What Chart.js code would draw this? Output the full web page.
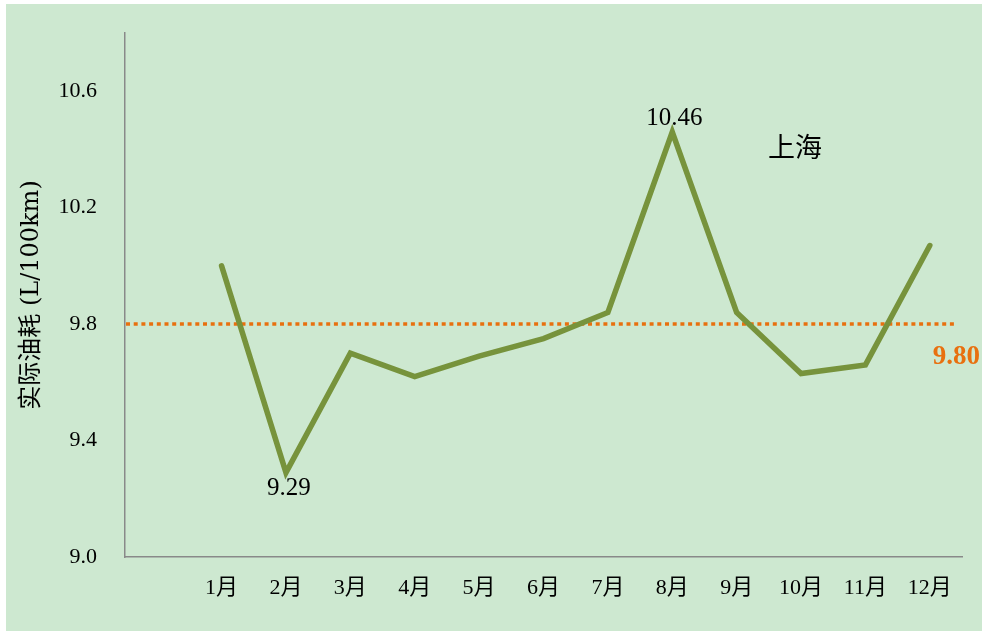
<!DOCTYPE html>
<html>
<head>
<meta charset="utf-8">
<script src="https://cdn.jsdelivr.net/npm/chart.js@4/dist/chart.umd.min.js"></script>
<style>
  html, body { margin: 0; padding: 0; background: #ffffff; }
  #wrap { position: relative; width: 988px; height: 633px; }
  canvas { position: absolute; left: 0; top: 0; }
</style>
</head>
<body>
<div id="wrap"><canvas id="c" width="988" height="633"></canvas></div>
<script>
const categories = ['', '1月', '2月', '3月', '4月', '5月', '6月', '7月', '8月', '9月', '10月', '11月', '12月'];
const fuelValues = [null, 10.00, 9.29, 9.70, 9.62, 9.69, 9.75, 9.84, 10.46, 9.84, 9.63, 9.66, 10.07];
const averageValue = [9.80];
const yTicks = [9.0, 9.4, 9.8, 10.2, 10.6];
const yRange = [9.0, 10.8];
const labeledPoints = [2, 8];
const labelBelow = [true, false];
const cityName = ['上海'];
const yAxisTitle = ['实际油耗 (L/100km)'];

const GREEN_BG = 'rgb(205,232,208)';
const LINE_COLOR = '#77933C';
const AVG_COLOR = '#E8700F';
const SERIF = '"Liberation Serif", "Noto Sans CJK SC", serif';
const SERIF_T = '"DejaVu Serif", "Noto Sans CJK SC", serif';

const decorPlugin = {
  id: 'decor',
  beforeDraw(chart) {
    const ctx = chart.ctx;
    ctx.save();
    ctx.fillStyle = GREEN_BG;
    ctx.fillRect(6, 4, 976, 627);
    ctx.restore();
  },
  beforeDatasetsDraw(chart) {
    const ctx = chart.ctx;
    const y = chart.scales.y.getPixelForValue(averageValue[0]);
    const area = chart.chartArea;
    ctx.save();
    ctx.strokeStyle = AVG_COLOR;
    ctx.lineWidth = 3.5;
    ctx.setLineDash([4, 3.7]);
    ctx.beginPath();
    ctx.moveTo(area.left + 1, y);
    ctx.lineTo(area.right - 6, y);
    ctx.stroke();
    ctx.restore();
  },
  afterDatasetsDraw(chart) {
    const ctx = chart.ctx;
    const meta = chart.getDatasetMeta(0);
    const area = chart.chartArea;
    ctx.save();
    ctx.fillStyle = '#000000';
    ctx.font = '25px ' + SERIF;
    ctx.textAlign = 'center';
    labeledPoints.forEach((idx, i) => {
      const p = meta.data[idx];
      const v = fuelValues[idx].toFixed(2);
      ctx.textBaseline = 'middle';
      if (labelBelow[i]) {
        ctx.fillText(v, p.x + 3, p.y + 16);
      } else {
        ctx.fillText(v, p.x + 2, p.y - 14);
      }
    });
    // city name
    ctx.font = '27px "Noto Sans CJK SC", sans-serif';
    ctx.textBaseline = 'middle';
    ctx.fillText(cityName[0], 795, 147);
    // average label
    const yAvg = chart.scales.y.getPixelForValue(averageValue[0]);
    ctx.fillStyle = AVG_COLOR;
    ctx.font = 'bold 27px ' + SERIF;
    ctx.textAlign = 'right';
    ctx.textBaseline = 'middle';
    ctx.fillText(averageValue[0].toFixed(2), area.right + 18, yAvg + 33);
    ctx.restore();
  }
};

new Chart(document.getElementById('c'), {
  type: 'line',
  data: {
    labels: categories,
    datasets: [{
      data: fuelValues,
      borderColor: LINE_COLOR,
      borderWidth: 5.5,
      borderCapStyle: 'round',
      borderJoinStyle: 'miter',
      pointRadius: 0,
      pointHoverRadius: 0,
      tension: 0,
      fill: false,
      spanGaps: false
    }]
  },
  options: {
    responsive: false,
    animation: false,
    devicePixelRatio: 1,
    layout: { padding: { left: 0, top: 33, right: 26, bottom: 0 } },
    plugins: { legend: { display: false }, tooltip: { enabled: false } },
    scales: {
      x: {
        offset: true,
        grid: { display: false, drawTicks: false },
        border: { display: true, color: '#898989', width: 1.5 },
        ticks: { color: '#000000', font: { family: SERIF, size: 22 }, padding: 18, maxRotation: 0, autoSkip: false },
        afterFit(scale) { scale.height = 76; scale.paddingLeft = 0; scale.paddingRight = 0; }
      },
      y: {
        min: yRange[0],
        max: yRange[1],
        afterBuildTicks(scale) { scale.ticks = yTicks.map(v => ({ value: v })); },
        grid: { display: false, drawTicks: false },
        border: { display: true, color: '#898989', width: 1.5 },
        ticks: {
          color: '#000000',
          font: { family: SERIF, size: 22 },
          padding: 28,
          callback: (v) => Number(v).toFixed(1)
        },
        title: {
          display: true,
          text: yAxisTitle[0],
          color: '#000000',
          font: { family: SERIF_T, size: 24 },
          padding: { top: 17, bottom: 0 }
        },
        afterFit(scale) { scale.width = 125; scale.paddingTop = 0; scale.paddingBottom = 0; }
      }
    }
  },
  plugins: [decorPlugin]
});
</script>
</body>
</html>
